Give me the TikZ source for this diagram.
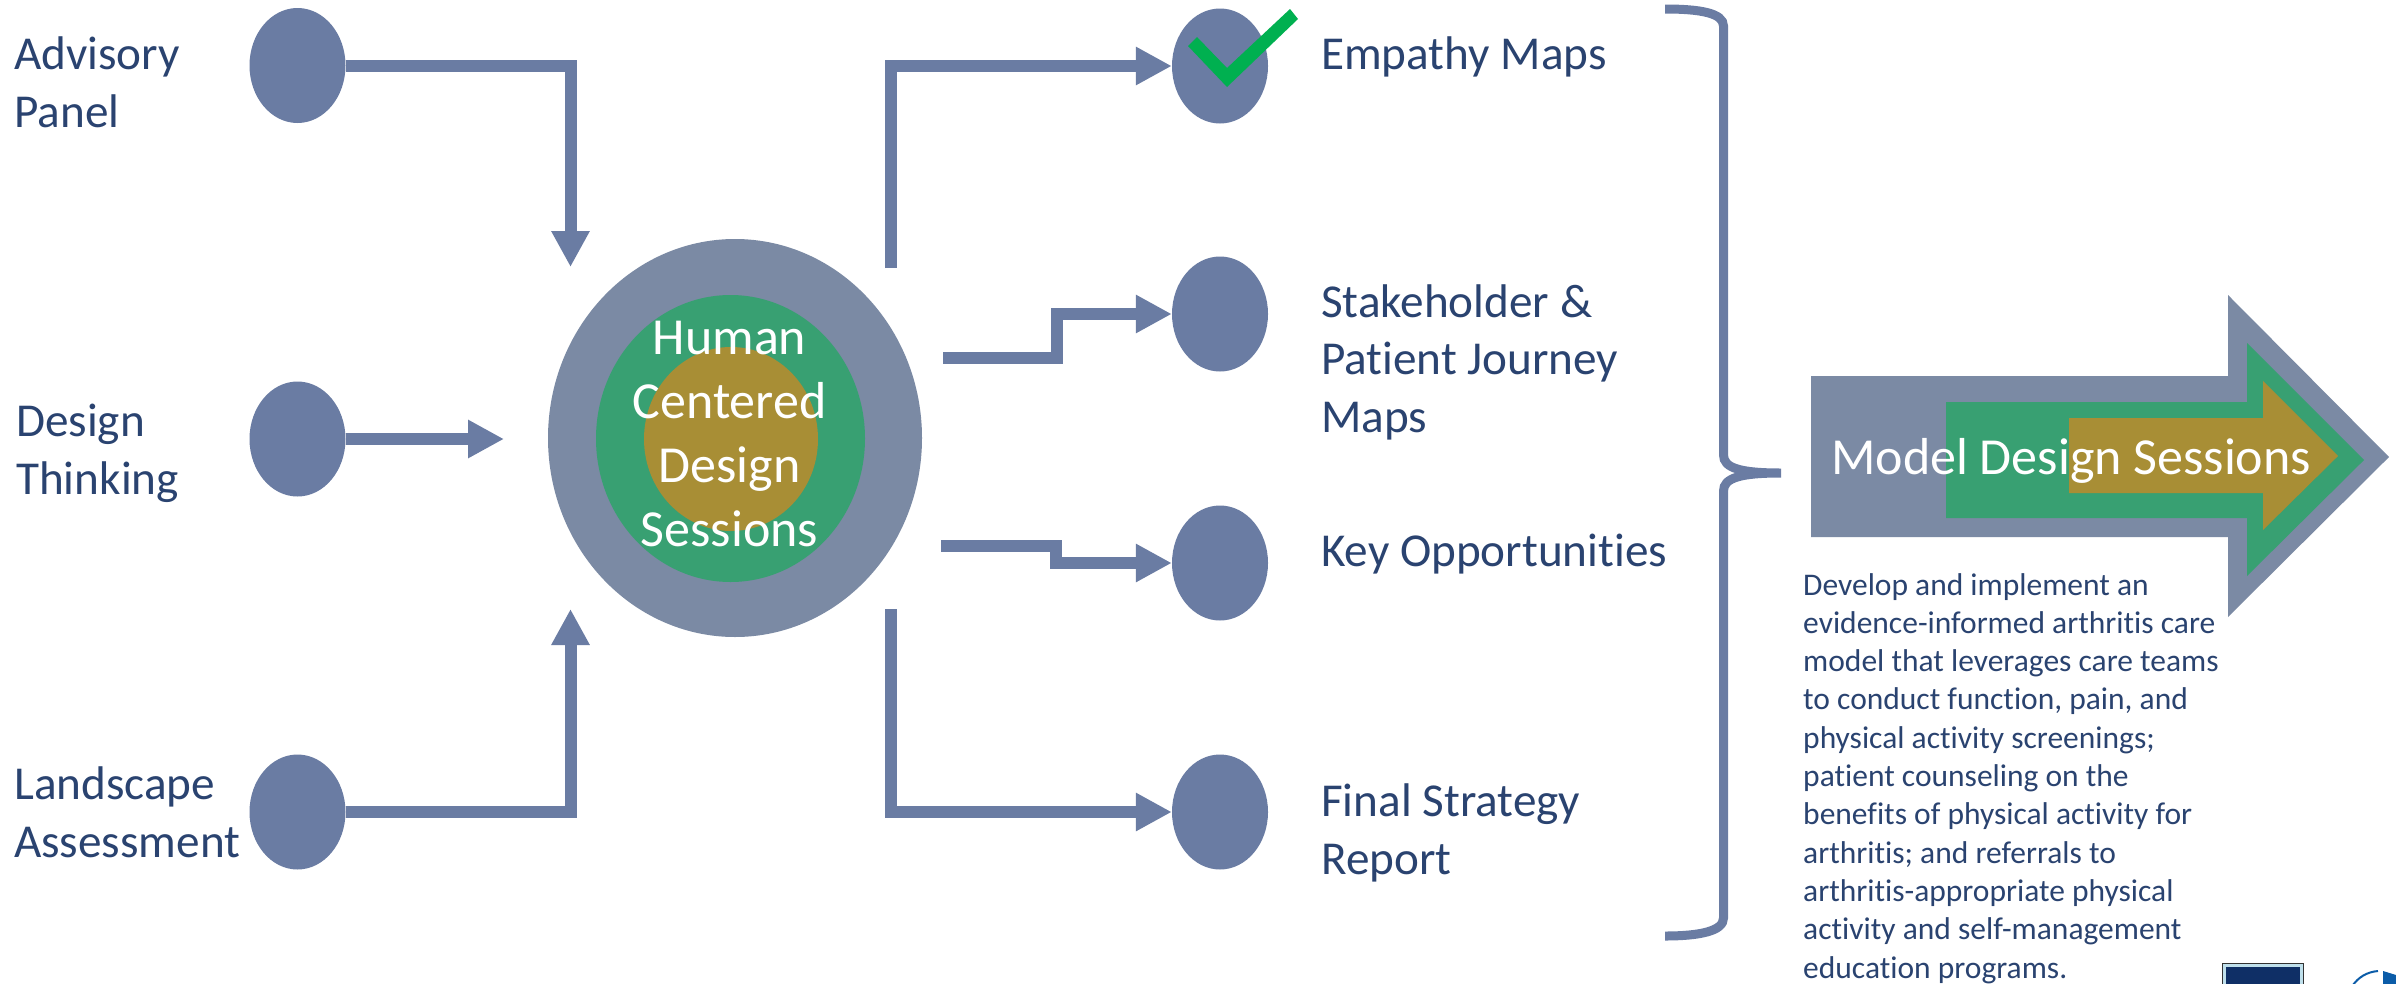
\documentclass[tikz,border=0pt]{standalone}
\usepackage{fontspec}
\setmainfont{Carlito}[RawFeature=-liga]
\usetikzlibrary{arrows.meta,shapes.geometric}
\definecolor{conn}{HTML}{6A7CA3}
\definecolor{outer}{HTML}{7B8AA4}
\definecolor{ringgreen}{HTML}{38A072}
\definecolor{ringgold}{HTML}{A88E35}
\definecolor{labelblue}{HTML}{2A4370}
\definecolor{tickgreen}{HTML}{00B050}
\definecolor{logonavy}{HTML}{0F2F66}
\definecolor{logoedge}{HTML}{BFE0EC}
\definecolor{logoblue}{HTML}{0B5CA8}
\tikzset{
  dot/.style={shape=ellipse,fill=conn,draw=none,minimum width=96pt,minimum height=115pt,inner sep=0pt},
  ring/.style={shape=ellipse,draw=none,inner sep=0pt},
  flow/.style={draw=conn,line width=12pt,line join=miter,-{Triangle[length=36pt,width=36pt]}},
  lbl/.style={text=labelblue,font=\fontsize{47.2}{57.5}\selectfont,align=left,inner sep=0pt,anchor=base west},
  inv/.style={text=white,inner sep=0pt}
}
\begin{document}
\begin{tikzpicture}[x=1pt,y=-1pt]
\useasboundingbox (0,0) rectangle (2396,983);
\fill[white] (0,0) rectangle (2396,983);
% left dots
\node[dot] (adv) at (297.5,65.5) {};
\node[dot] (des) at (297.5,439) {};
\node[dot] (lan) at (297.5,812) {};
% right dots
\node[dot] (emp) at (1220,66) {};
\node[dot] (sta) at (1220,314) {};
\node[dot] (key) at (1220,563) {};
\node[dot] (fin) at (1220,812) {};
% centre
\node[ring,fill=outer,minimum width=374pt,minimum height=398pt] (cOuter) at (735,438) {};
\node[ring,fill=ringgreen,minimum width=269pt,minimum height=287pt] (cMid) at (730.5,438.5) {};
\node[ring,fill=ringgold,minimum width=174pt,minimum height=184pt] (cIn) at (731,439) {};
\node[inv,align=center,font=\fontsize{52}{64}\selectfont] (cText) at (729.5,434) {Human\\Centered\\Design\\Sessions};
% free connector ends
\coordinate (inA) at (570.5,267);
\coordinate (inB) at (504,439);
\coordinate (inC) at (570.5,609);
\coordinate (outA) at (891,268);
\coordinate (outB) at (943,358);
\coordinate (outC) at (941,546);
\coordinate (outD) at (891,609);
% connectors
\draw[flow] (adv.east) -| (inA);
\draw[flow] (des.east) -- (inB);
\draw[flow] (lan.east) -| (inC);
\draw[flow] (outA) |- (emp.west);
\draw[flow] (outB) -| (1057,336) |- (sta.west);
\draw[flow] (outC) -| (1056,554.5) |- (key.west);
\draw[flow] (outD) |- (fin.west);
% check mark
\fill[tickgreen] (1188,46) -- (1197,37) -- (1227,68) -- (1290,9) -- (1298,19) -- (1227,87) -- cycle;
% labels
\node[lbl] (tAdv) at (14,127) {Advisory\\Panel};
\node[lbl] (tDes) at (16,494) {Design\\Thinking};
\node[lbl] (tLan) at (14,857) {Landscape\\Assessment};
\node[lbl] (tEmp) at (1321,69) {Empathy Maps};
\node[lbl] (tSta) at (1321,432) {Stakeholder \&\\Patient Journey\\Maps};
\node[lbl] (tKey) at (1321,566) {Key Opportunities};
\node[lbl] (tFin) at (1321,874) {Final Strategy\\Report};
% brace
\draw[conn,line width=9pt,line cap=butt] (1665,9) .. controls (1700,9) and (1723.5,13) .. (1723.5,26) -- (1723.5,455)
  .. controls (1723.5,468) and (1740,473) .. (1781,473)
  .. controls (1740,473) and (1723.5,478) .. (1723.5,491) -- (1723.5,918)
  .. controls (1723.5,931) and (1700,936) .. (1665,936);
% big arrows
\fill[outer] (1811,376) -- (2228,376) -- (2228,295) -- (2389,457) -- (2228,617) -- (2228,537) -- (1811,537) -- cycle;
\fill[ringgreen] (1946,402) -- (2247,402) -- (2247,343) -- (2364,460) -- (2247,576) -- (2247,518) -- (1946,518) -- cycle;
\fill[ringgold] (2069,418) -- (2263,418) -- (2263,381) -- (2338,456) -- (2263,530) -- (2263,493) -- (2069,493) -- cycle;
\node[inv,anchor=base west,font=\fontsize{52}{60}\selectfont] (tMod) at (1831,474) {Model Design Sessions};
% body text
\node[text=labelblue,inner sep=0pt,align=left,anchor=base west,font=\fontsize{31.5}{38.3}\selectfont] (tBody) at (1803,978) {Develop and implement an\\evidence-informed arthritis care\\model that leverages care teams\\to conduct function, pain, and\\physical activity screenings;\\patient counseling on the\\benefits of physical activity for\\arthritis; and referrals to\\arthritis-appropriate physical\\activity and self-management\\education programs.};
% cut-off logos
\fill[black!80] (2222,963) rectangle (2304,990);
\fill[logoedge] (2223,964) rectangle (2303,990);
\fill[logonavy] (2226,967) rectangle (2300,990);
\draw[logoblue,line width=2pt] (2353,985) .. controls (2358,978) and (2366,972) .. (2378,971);
\fill[logoblue] (2383,971) -- (2396,975) -- (2396,990) -- (2383,990) -- cycle;
\end{tikzpicture}
\end{document}
